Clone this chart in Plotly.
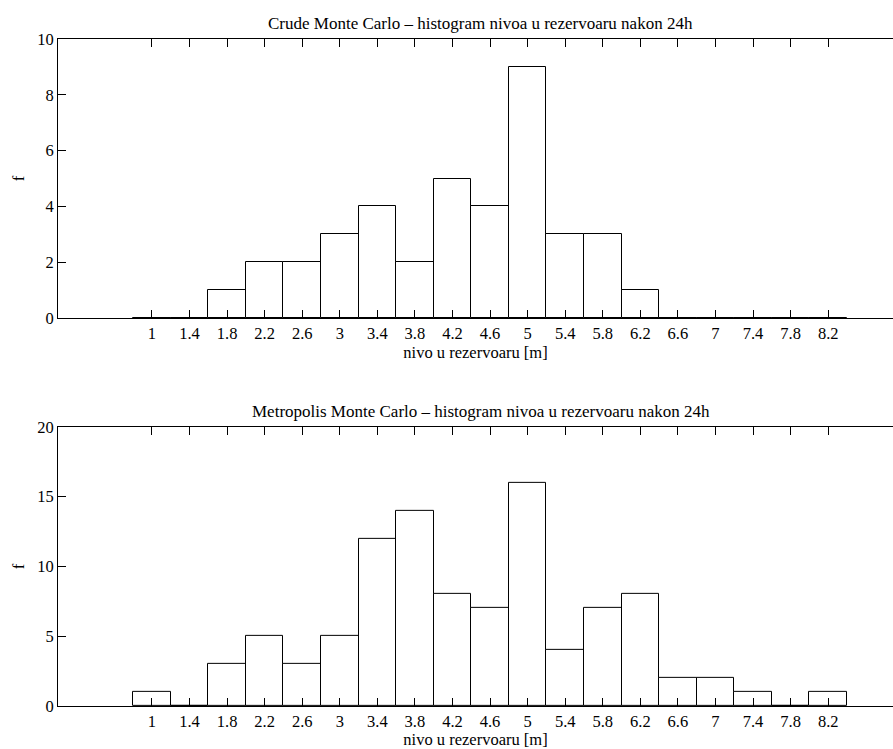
import plotly.graph_objects as go
from plotly.subplots import make_subplots

# bin centres of the level histograms [m]
bin_centres = [1.0, 1.4, 1.8, 2.2, 2.6, 3.0, 3.4, 3.8, 4.2, 4.6,
               5.0, 5.4, 5.8, 6.2, 6.6, 7.0, 7.4, 7.8, 8.2]
tick_labels = ["1", "1.4", "1.8", "2.2", "2.6", "3", "3.4", "3.8", "4.2", "4.6",
               "5", "5.4", "5.8", "6.2", "6.6", "7", "7.4", "7.8", "8.2"]

# counts per bin
crude_counts = [0, 0, 1, 2, 2, 3, 4, 2, 5, 4, 9, 3, 3, 1, 0, 0, 0, 0, 0]
metropolis_counts = [1, 0, 3, 5, 3, 5, 12, 14, 8, 7, 16, 4, 7, 8, 2, 2, 1, 0, 1]

titles = ["Crude Monte Carlo – histogram nivoa u rezervoaru nakon 24h",
          "Metropolis Monte Carlo – histogram nivoa u rezervoaru nakon 24h"]
x_title = "nivo u rezervoaru [m]"
y_title = "f"

FONT = "Liberation Serif, Times New Roman, serif"
FS = 16.5
W, H = 893, 749
ML, MR, MT, MB = 58, 0, 39, 43

fig = make_subplots(rows=2, cols=1, vertical_spacing=0.163)

for row, counts in ((1, crude_counts), (2, metropolis_counts)):
    fig.add_trace(go.Bar(
        x=bin_centres, y=counts, width=0.4,
        marker=dict(color="white", line=dict(color="black", width=1)),
        showlegend=False, hoverinfo="x+y"), row=row, col=1)

fig.update_layout(
    width=W, height=H,
    margin=dict(l=ML, r=MR, t=MT, b=MB, autoexpand=False),
    plot_bgcolor="white", paper_bgcolor="white",
    font=dict(family=FONT, size=FS, color="black"),
    bargap=0,
)

x_range = [0, 8.89]
fig.update_xaxes(range=x_range, tickvals=bin_centres, ticktext=tick_labels,
                 ticks="inside", ticklen=8, tickcolor="black", tickwidth=1,
                 showline=True, linecolor="black", linewidth=1, mirror="allticks",
                 showgrid=False, zeroline=False, automargin=False,
                 tickfont=dict(family=FONT, size=FS),
                 title=dict(text=x_title, font=dict(family=FONT, size=FS), standoff=3))
fig.update_yaxes(ticks="inside", ticklen=8, tickcolor="black", tickwidth=1,
                 showline=True, linecolor="black", linewidth=1, mirror=False,
                 showgrid=False, zeroline=False, automargin=False,
                 tickfont=dict(family=FONT, size=FS),
                 title=dict(text=y_title, font=dict(family=FONT, size=FS), standoff=8))
fig.update_yaxes(range=[0, 10], tickvals=[0, 2, 4, 6, 8, 10], row=1, col=1)
fig.update_yaxes(range=[0, 20], tickvals=[0, 5, 10, 15, 20], row=2, col=1)

# titles centred over the full 0..9 axis span
centre_x = (4.5 - x_range[0]) / (x_range[1] - x_range[0])
for ax, title in (("y", titles[0]), ("y2", titles[1])):
    fig.add_annotation(text=title, xref="paper", yref=ax + " domain",
                       x=centre_x, y=1.0, yshift=4, xanchor="center", yanchor="bottom",
                       showarrow=False, font=dict(family=FONT, size=17, color="black"))

fig.write_html("out.html")
